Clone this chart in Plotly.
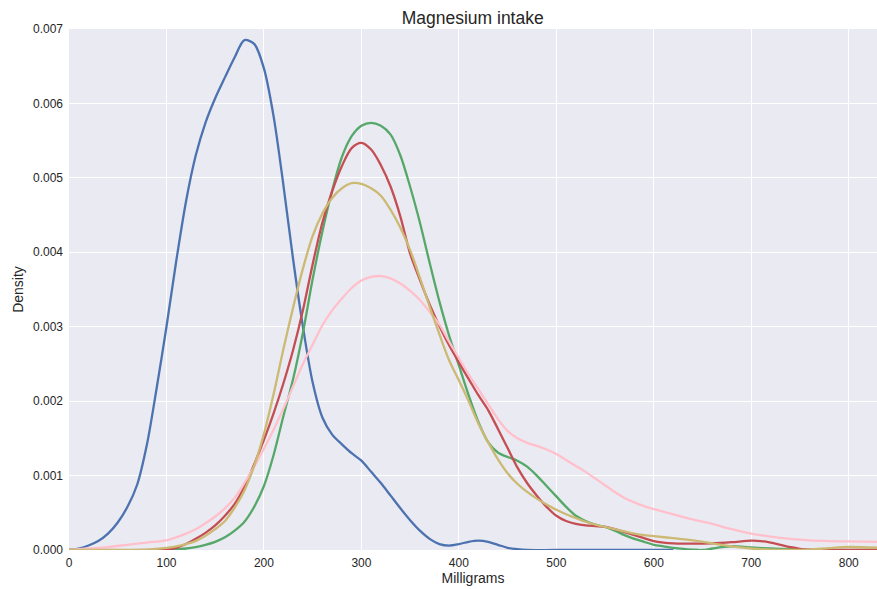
import plotly.graph_objects as go

# Kernel density curves of magnesium intake (mg); density values are in units of 1e-3
blue_x = [0, 10, 20, 30, 40, 50, 60, 70, 80, 90, 100, 110, 120, 130, 140, 150, 160, 170, 180, 190,
          200, 210, 220, 230, 240, 250, 260, 270, 280, 290, 300, 310, 320, 330, 340, 350, 360, 370,
          380, 390, 400, 410, 420, 430, 440, 450, 460, 470, 500, 620]
blue_y = [0.00, 0.02, 0.06, 0.12, 0.22, 0.37, 0.58, 0.88, 1.42, 2.18, 3.00, 3.88, 4.68, 5.30, 5.74,
          6.07, 6.35, 6.62, 6.85, 6.80, 6.47, 5.82, 4.90, 3.90, 3.00, 2.25, 1.78, 1.55, 1.42, 1.30,
          1.20, 1.05, 0.90, 0.73, 0.56, 0.40, 0.26, 0.15, 0.08, 0.06, 0.08, 0.11, 0.125, 0.11, 0.07,
          0.03, 0.01, 0.0, 0.0, 0.0]

green_x = [0, 100, 110, 120, 130, 140, 150, 160, 170, 180, 190, 200, 210, 220, 230, 240, 250, 260,
           270, 280, 290, 300, 310, 320, 330, 340, 350, 360, 370, 380, 390, 400, 410, 420, 430, 440,
           450, 460, 470, 480, 490, 500, 510, 520, 530, 540, 550, 560, 570, 580, 590, 600, 610, 620,
           630, 640, 650, 660, 670, 680, 690, 700, 720, 740, 760, 829]
green_y = [0.0, 0.0, 0.01, 0.02, 0.04, 0.07, 0.11, 0.17, 0.26, 0.38, 0.58, 0.86, 1.28, 1.80, 2.30,
           2.92, 3.64, 4.28, 4.83, 5.28, 5.56, 5.70, 5.74, 5.70, 5.58, 5.30, 4.88, 4.40, 3.86, 3.34,
           2.88, 2.48, 2.08, 1.72, 1.45, 1.31, 1.25, 1.20, 1.12, 1.00, 0.86, 0.72, 0.58, 0.46, 0.39,
           0.34, 0.31, 0.26, 0.20, 0.15, 0.11, 0.07, 0.05, 0.03, 0.015, 0.005, 0.0, 0.02, 0.04, 0.05,
           0.045, 0.035, 0.02, 0.01, 0.0, 0.0]

red_x = [0, 90, 100, 110, 120, 130, 140, 150, 160, 170, 180, 190, 200, 210, 220, 230, 240, 250, 260,
         270, 280, 290, 300, 310, 320, 330, 340, 350, 360, 370, 380, 390, 400, 410, 420, 430, 440,
         450, 460, 470, 480, 490, 500, 510, 520, 530, 540, 550, 560, 570, 580, 590, 600, 610, 620,
         640, 660, 680, 700, 710, 720, 730, 740, 750, 760, 780, 829]
red_y = [0.0, 0.0, 0.005, 0.03, 0.08, 0.15, 0.23, 0.33, 0.46, 0.62, 0.85, 1.15, 1.48, 1.84, 2.24,
         2.69, 3.22, 3.84, 4.40, 4.82, 5.16, 5.40, 5.47, 5.38, 5.17, 4.88, 4.48, 3.98, 3.63, 3.30,
         3.01, 2.75, 2.52, 2.30, 2.08, 1.88, 1.63, 1.37, 1.11, 0.90, 0.73, 0.58, 0.46, 0.39, 0.35,
         0.33, 0.32, 0.31, 0.28, 0.24, 0.20, 0.16, 0.12, 0.10, 0.09, 0.085, 0.09, 0.105, 0.125, 0.12,
         0.10, 0.07, 0.04, 0.015, 0.005, 0.0, 0.0]

pink_x = [0, 20, 40, 60, 80, 100, 110, 120, 130, 140, 150, 160, 170, 180, 190, 200, 210, 220, 230,
          240, 250, 260, 270, 280, 290, 300, 310, 320, 330, 340, 350, 360, 370, 380, 390, 400, 410,
          420, 430, 440, 450, 460, 470, 480, 490, 500, 510, 520, 530, 540, 550, 560, 570, 580, 590,
          600, 620, 640, 660, 680, 700, 720, 740, 760, 780, 800, 829]
pink_y = [0.0, 0.02, 0.04, 0.07, 0.10, 0.13, 0.17, 0.22, 0.28, 0.36, 0.45, 0.56, 0.70, 0.90, 1.12,
          1.36, 1.62, 1.90, 2.20, 2.50, 2.76, 3.02, 3.22, 3.38, 3.52, 3.62, 3.67, 3.68, 3.65, 3.58,
          3.48, 3.36, 3.20, 3.03, 2.80, 2.58, 2.36, 2.16, 1.96, 1.76, 1.60, 1.50, 1.44, 1.40, 1.35,
          1.29, 1.21, 1.13, 1.05, 0.96, 0.87, 0.78, 0.70, 0.64, 0.59, 0.55, 0.48, 0.41, 0.35, 0.28,
          0.22, 0.18, 0.15, 0.13, 0.12, 0.115, 0.11]

yellow_x = [0, 80, 90, 100, 110, 120, 130, 140, 150, 160, 170, 180, 190, 200, 210, 220, 230, 240,
            250, 260, 270, 280, 290, 300, 310, 320, 330, 340, 350, 360, 370, 380, 390, 400, 410, 420,
            430, 440, 450, 460, 470, 480, 490, 500, 510, 520, 530, 540, 550, 560, 570, 580, 590, 600,
            620, 640, 660, 680, 700, 720, 740, 760, 780, 800, 829]
yellow_y = [0.0, 0.005, 0.015, 0.03, 0.05, 0.08, 0.12, 0.19, 0.28, 0.39, 0.57, 0.80, 1.13, 1.56,
            2.10, 2.70, 3.26, 3.78, 4.22, 4.52, 4.73, 4.86, 4.93, 4.92, 4.86, 4.76, 4.57, 4.33, 4.03,
            3.66, 3.27, 2.90, 2.55, 2.28, 2.00, 1.70, 1.45, 1.22, 1.03, 0.89, 0.78, 0.69, 0.61, 0.54,
            0.48, 0.43, 0.38, 0.34, 0.31, 0.28, 0.25, 0.22, 0.20, 0.185, 0.16, 0.13, 0.09, 0.05, 0.02,
            0.005, 0.0, 0.005, 0.025, 0.04, 0.03]

x_ticks = [0, 100, 200, 300, 400, 500, 600, 700, 800]
y_ticks = [0.000, 0.001, 0.002, 0.003, 0.004, 0.005, 0.006, 0.007]

series = [
    (blue_x, blue_y, "#4C72B0"),
    (green_x, green_y, "#55A868"),
    (red_x, red_y, "#C44E52"),
    (pink_x, pink_y, "#FFC0CB"),
    (yellow_x, yellow_y, "#CCB974"),
]

fig = go.Figure()
for xs, ys, color in series:
    fig.add_trace(go.Scatter(
        x=xs, y=[v / 1000 for v in ys], mode="lines",
        line=dict(color=color, width=2.3, shape="spline", smoothing=0.85),
        showlegend=False, hoverinfo="skip",
    ))

font_family = "Liberation Sans, Arial, sans-serif"
fig.update_layout(
    width=877, height=589,
    margin=dict(l=69, r=0, t=29, b=39),
    paper_bgcolor="white",
    plot_bgcolor="#EAEAF2",
    font=dict(family=font_family, color="#262626", size=12),
    title=dict(text="Magnesium intake", x=0.539, xanchor="center", y=0.969, yanchor="middle",
               font=dict(size=17.5, color="#262626")),
    xaxis=dict(range=[0, 829], tickvals=x_ticks, ticktext=[str(v) for v in x_ticks],
               showgrid=True, gridcolor="white", gridwidth=1, zeroline=False, showline=False,
               ticks="", ticklabelstandoff=4,
               title=dict(text="Milligrams", font=dict(size=14), standoff=4)),
    yaxis=dict(range=[0, 0.007], tickvals=y_ticks, ticktext=[f"{v:.3f}" for v in y_ticks],
               showgrid=True, gridcolor="white", gridwidth=1, zeroline=False, showline=False,
               ticks="", ticklabelstandoff=5,
               title=dict(text="Density", font=dict(size=14), standoff=6)),
)

fig.write_html("out.html")
